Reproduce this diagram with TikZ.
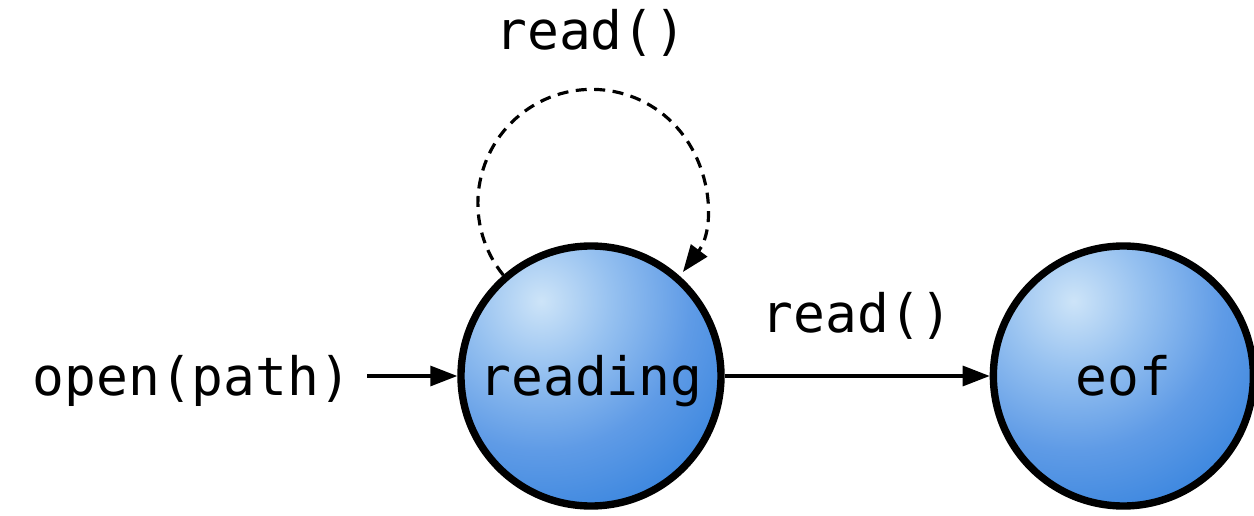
\documentclass[tikz,border=0pt]{standalone}
\usepackage{fontspec}
\setmonofont{DejaVu Sans Mono}
\usetikzlibrary{positioning,arrows.meta}
\definecolor{state-light}{RGB}{205,228,248}
\definecolor{state-high}{RGB}{150,193,240}
\definecolor{state-mid}{RGB}{95,155,230}
\definecolor{state-low}{RGB}{45,126,220}
\definecolor{state-dark}{RGB}{0,106,215}
\pgfdeclareradialshading{state-ball}{\pgfpoint{0bp}{0bp}}{color(0bp)=(state-light); color(8bp)=(state-high); color(17bp)=(state-mid); color(29bp)=(state-low); color(41bp)=(state-dark); color(50bp)=(state-dark)}

\begin{document}
\begin{tikzpicture}
[
state-a/.style={circle, draw, line width = 4.2pt, minimum size = 52.0mm, text height = 9mm, text depth = 1.4mm, font = \ttfamily\fontsize{30.1}{36}\selectfont,
  path picture={\shade[shading = state-ball] ([shift={(-1cm,1.5cm)}]path picture bounding box.center) circle (4.4cm);}},
text-a/.style={black, text height = 9mm, text depth = 1.4mm, font = \ttfamily\fontsize{30.1}{36}\selectfont},
arrow-a/.style={-{Triangle[length = 5.4mm, width = 4mm]}, line width = 1.8pt}
]
\useasboundingbox (0,0) rectangle (25.08,10.3);
\node (state-reading) [state-a] at (11.82,2.78)                  {reading};
\node (state-eof)     [state-a, right = 53.00mm of state-reading] {eof};
\node (text-open)     [text-a,  left  = 20.00mm of state-reading] {open(path)};
\node (text-loop)     [text-a,  above = 35.90mm of state-reading] {read()};
\draw [arrow-a, shorten < = 2mm] (text-open) -- (state-reading);
\draw [arrow-a] (state-reading) -- node (text-read) [text-a, above = 5.90mm] {read()} (state-eof);
\draw [arrow-a, dash pattern = on 2.2mm off 1.5mm] (state-reading.131) arc [start angle = 219, end angle = -37, radius = 2.28cm];
\end{tikzpicture}
\end{document}
